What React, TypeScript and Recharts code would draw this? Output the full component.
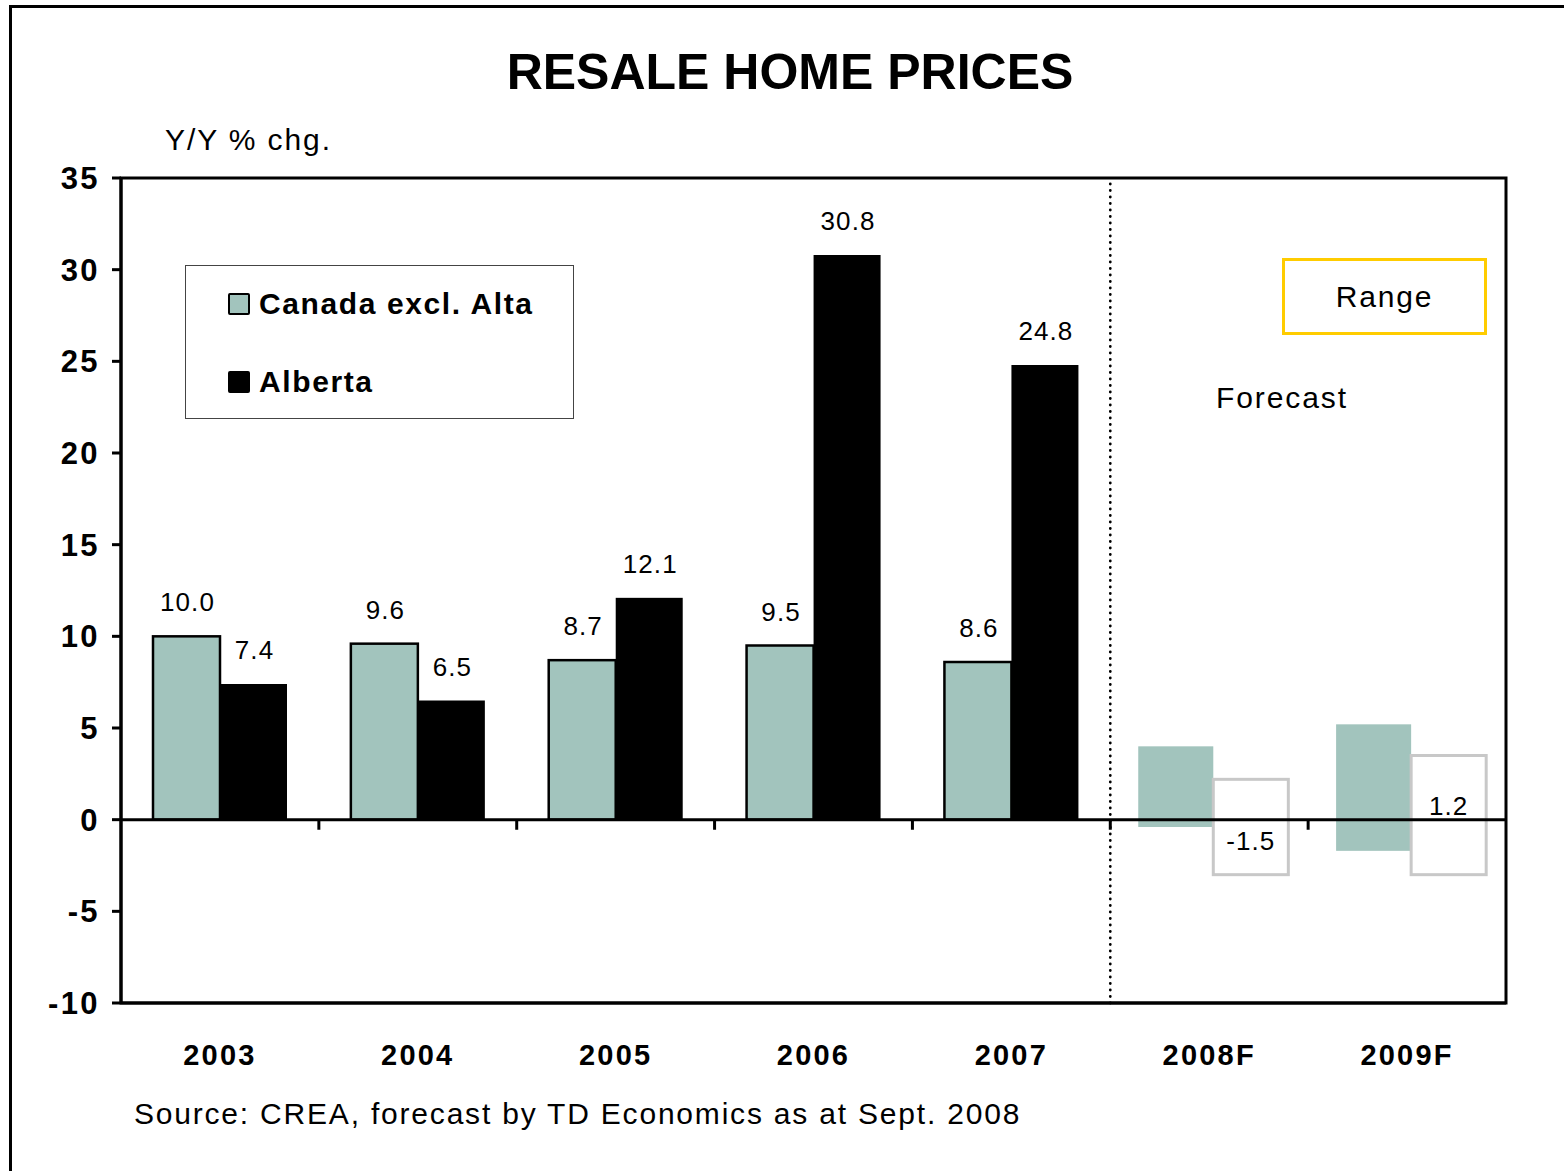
import {
  ComposedChart,
  Bar,
  XAxis,
  YAxis,
  ReferenceLine,
  ReferenceArea,
  Legend,
  LabelList,
} from 'recharts';

const FONT = '"Liberation Sans", Arial, Helvetica, sans-serif';
const TEAL = '#a2c4bd';
const BOX_GREY = '#c8c8c8';

const years = ['2003', '2004', '2005', '2006', '2007', '2008F', '2009F'];
const canadaActual = [10.0, 9.6, 8.7, 9.5, 8.6, null, null];
const albertaActual = [7.4, 6.5, 12.1, 30.8, 24.8, null, null];
// forecast ranges (low / high) and Alberta point forecast
const canadaLow = [null, null, null, null, null, -0.4, -1.7];
const canadaHigh = [null, null, null, null, null, 4.0, 5.2];
const albertaLow = [null, null, null, null, null, -3.0, -3.0];
const albertaHigh = [null, null, null, null, null, 2.2, 3.5];
const albertaPoint = [null, null, null, null, null, -1.5, 1.2];
const yTicks = [-10, -5, 0, 5, 10, 15, 20, 25, 30, 35];

const data = years.map((year, i) => {
  const forecast = canadaActual[i] === null;
  return {
    year,
    forecast,
    canada: forecast ? [canadaLow[i], canadaHigh[i]] : [0, canadaActual[i]],
    alberta: forecast ? [albertaLow[i], albertaHigh[i]] : [0, albertaActual[i]],
  };
});

// forecast boxes are drawn a little wider than the history bars
const FC_WIDEN = 1.12;
const FC_SHIFT = 4;

function norm(props: any) {
  const { x, y, width, height } = props;
  const top = height < 0 ? y + height : y;
  return { x, top, width, h: Math.abs(height) };
}

function CanadaShape(props: any) {
  const { x, top, width, h } = norm(props);
  if (props.payload.forecast) {
    const w = width * FC_WIDEN;
    return <rect x={x + width - w + FC_SHIFT} y={top} width={w} height={h} fill={TEAL} />;
  }
  return (
    <rect x={x} y={top} width={width} height={h} fill={TEAL} stroke="#000" strokeWidth={2.5} />
  );
}

function AlbertaShape(props: any) {
  const { x, top, width, h } = norm(props);
  if (props.payload.forecast) {
    const w = width * FC_WIDEN;
    return (
      <rect
        x={x + FC_SHIFT}
        y={top}
        width={w}
        height={h}
        fill="none"
        stroke={BOX_GREY}
        strokeWidth={3}
      />
    );
  }
  return <rect x={x} y={top} width={width} height={h} fill="#000" />;
}

const labelStyle = {
  fontFamily: FONT,
  fontSize: 26,
  fill: '#000',
  letterSpacing: 1.1,
};

function topLabel(values: (number | null)[]) {
  return (props: any) => {
    const v = values[props.index];
    if (v === null || v === undefined) return null;
    const { x, top, width } = norm(props);
    return (
      <text x={x + width / 2 + 1} y={top - 25} textAnchor="middle" {...labelStyle}>
        {v.toFixed(1)}
      </text>
    );
  };
}

function albertaLabel(props: any) {
  const i = props.index;
  if (albertaActual[i] !== null) return topLabel(albertaActual)(props);
  const p = albertaPoint[i];
  const lo = albertaLow[i];
  const hi = albertaHigh[i];
  if (p === null || lo === null || hi === null) return null;
  const { x, top, width, h } = norm(props);
  const yp = top + (h * (hi - p)) / (hi - lo);
  return (
    <text
      x={x + FC_SHIFT + (width * FC_WIDEN) / 2}
      y={p < 0 ? yp + 3 : yp + 17}
      textAnchor="middle"
      {...labelStyle}
    >
      {p.toFixed(1)}
    </text>
  );
}

function LegendBox() {
  const item = (color: string, label: string) => (
    <div style={{ display: 'flex', alignItems: 'center', height: 40 }}>
      <span
        style={{
          display: 'inline-block',
          width: 18,
          height: 18,
          background: color,
          border: '2px solid #000',
          borderRadius: 2,
          marginRight: 9,
        }}
      />
      <span style={{ fontWeight: 'bold', fontSize: 30, fontFamily: FONT, letterSpacing: 1.6 }}>
        {label}
      </span>
    </div>
  );
  return (
    <div
      style={{
        width: 389,
        height: 154,
        border: '1.5px solid #444',
        background: '#fff',
        boxSizing: 'border-box',
        paddingLeft: 42,
        paddingTop: 18,
      }}
    >
      {item(TEAL, 'Canada excl. Alta')}
      <div style={{ height: 38 }} />
      {item('#000', 'Alberta')}
    </div>
  );
}

export default function App() {
  return (
    <div
      style={{
        position: 'absolute',
        left: 0,
        top: 0,
        width: 1564,
        height: 1171,
        overflow: 'hidden',
        background: '#fff',
        fontFamily: FONT,
      }}
    >
      <div
        style={{
          position: 'absolute',
          left: 9,
          top: 5,
          width: 1600,
          height: 1200,
          borderLeft: '3px solid #000',
          borderTop: '3px solid #000',
        }}
      />
      <div style={{ position: 'absolute', left: 0, top: 0 }}>
        <ComposedChart
          width={1564}
          height={1171}
          data={data}
          margin={{ top: 178, right: 58, bottom: 108, left: 41 }}
          barGap={0}
          barSize={67}
        >
          <XAxis
            dataKey="year"
            axisLine={{ stroke: '#000', strokeWidth: 3 }}
            tickLine={false}
            tickSize={0}
            tickMargin={41}
            height={60}
            tick={{
              fill: '#000',
              fontSize: 29,
              fontWeight: 'bold',
              fontFamily: FONT,
              letterSpacing: 2.2,
            }}
          />
          <YAxis
            domain={[-10, 35]}
            ticks={yTicks}
            interval={0}
            width={80}
            axisLine={{ stroke: '#000', strokeWidth: 3 }}
            tickLine={{ stroke: '#000', strokeWidth: 3 }}
            tickSize={9}
            tickMargin={12}
            tick={{
              fill: '#000',
              fontSize: 31,
              fontWeight: 'bold',
              fontFamily: FONT,
              letterSpacing: 2.4,
            }}
          />
          <ReferenceLine y={0} stroke="#000" strokeWidth={3} />
          {years.slice(1).map((yr) => (
            <ReferenceLine
              key={yr}
              segment={[
                { x: yr, y: 0 },
                { x: yr, y: -0.55 },
              ]}
              position="start"
              stroke="#000"
              strokeWidth={3}
            />
          ))}
          <ReferenceLine
            x="2008F"
            position="start"
            stroke="#000"
            strokeWidth={2.8}
            strokeDasharray="0 6.5"
            strokeLinecap="round"
          />
          <Bar dataKey="canada" name="Canada excl. Alta" shape={CanadaShape} isAnimationActive={false}>
            <LabelList dataKey="canada" content={topLabel(canadaActual)} />
          </Bar>
          <Bar dataKey="alberta" name="Alberta" shape={AlbertaShape} isAnimationActive={false}>
            <LabelList dataKey="alberta" content={albertaLabel} />
          </Bar>
          <ReferenceArea y1={-10} y2={35} fill="none" stroke="#000" strokeWidth={3} />
          <Legend
            layout="vertical"
            align="center"
            verticalAlign="middle"
            content={() => <LegendBox />}
            wrapperStyle={{ left: 185, top: 265, width: 389, height: 154 }}
          />
        </ComposedChart>
      </div>

      <div
        style={{
          position: 'absolute',
          left: 290,
          width: 1000,
          top: 47,
          textAlign: 'center',
          fontSize: 50,
          lineHeight: '50px',
          fontWeight: 'bold',
        }}
      >
        RESALE HOME PRICES
      </div>
      <div
        style={{
          position: 'absolute',
          left: 165,
          top: 125,
          fontSize: 30,
          lineHeight: '30px',
          letterSpacing: 1.9,
        }}
      >
        Y/Y % chg.
      </div>
      <div
        style={{
          position: 'absolute',
          left: 1216,
          top: 383,
          fontSize: 30,
          lineHeight: '30px',
          letterSpacing: 1.9,
        }}
      >
        Forecast
      </div>
      <div
        style={{
          position: 'absolute',
          left: 1282,
          top: 258,
          width: 205,
          height: 77,
          boxSizing: 'border-box',
          border: '3px solid #ffcc00',
          display: 'flex',
          alignItems: 'center',
          justifyContent: 'center',
          fontSize: 30,
          letterSpacing: 1.8,
        }}
      >
        Range
      </div>
      <div
        style={{
          position: 'absolute',
          left: 134,
          top: 1099,
          fontSize: 30,
          lineHeight: '30px',
          letterSpacing: 1.8,
        }}
      >
        Source: CREA, forecast by TD Economics as at Sept. 2008
      </div>
    </div>
  );
}
